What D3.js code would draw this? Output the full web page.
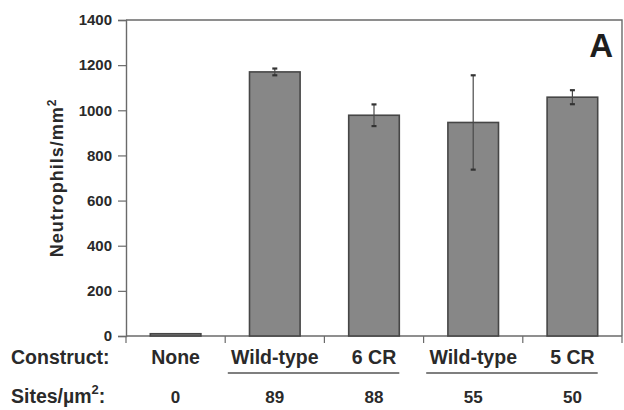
<!DOCTYPE html>
<html>
<head>
<meta charset="utf-8">
<script src="https://cdn.jsdelivr.net/npm/d3@7"></script>
<style>
  body { margin: 0; background: #fff; }
  text { font-family: "Liberation Sans", Arial, Helvetica, sans-serif; fill: #2a2a2a; }
</style>
</head>
<body>
<div id="chart"></div>
<script>
// data
var constructs = ["None", "Wild-type", "6 CR", "Wild-type", "5 CR"]
var sites = ["0", "89", "88", "55", "50"]
var means = [10, 1170, 978, 946, 1058]
var errs = [0, 15, 48, 209, 31]
var yTicks = [0, 200, 400, 600, 800, 1000, 1200, 1400]
var groups = [[1, 2], [3, 4]]   // underlined pairs

var W = 624, H = 410
var margin = {top: 20, right: 2, bottom: 74, left: 126}
var width = W - margin.left - margin.right
var height = H - margin.top - margin.bottom

var svg = d3.select("#chart").append("svg")
    .attr("width", W).attr("height", H)

var g = svg.append("g")
    .attr("transform", "translate(" + margin.left + "," + margin.top + ")")

var x = d3.scaleBand()
    .domain(d3.range(constructs.length))
    .range([0, width])
    .paddingInner(0.49).paddingOuter(0.245)

var y = d3.scaleLinear().domain([0, 1400]).range([height, 0])

var frameColor = "#6a6a6a"

// frame top + right
g.append("path")
    .attr("d", "M0,0H" + width + "V" + height)
    .style("fill", "none").style("stroke", frameColor).style("stroke-width", 1.4)

// y axis
var yAxis = g.append("g")
    .call(d3.axisLeft(y).tickValues(yTicks).tickSize(8).tickPadding(6).tickFormat(d3.format("d")))
yAxis.select(".domain").style("stroke", frameColor).style("stroke-width", 1.4)
yAxis.selectAll(".tick line").style("stroke", frameColor).style("stroke-width", 1.2)
yAxis.selectAll(".tick text")
    .style("font-size", "15px").style("font-weight", "bold").style("fill", "#2a2a2a")
    .attr("font-family", null)

// x axis line with ticks at band boundaries
g.append("line")
    .attr("x1", 0).attr("x2", width).attr("y1", height).attr("y2", height)
    .style("stroke", frameColor).style("stroke-width", 1.4)
g.selectAll(".xtick").data(d3.range(constructs.length + 1)).enter().append("line")
    .attr("class", "xtick")
    .attr("x1", function(d){ return d * width / constructs.length })
    .attr("x2", function(d){ return d * width / constructs.length })
    .attr("y1", height).attr("y2", height + 7)
    .style("stroke", frameColor).style("stroke-width", 1.2)

// bars
g.selectAll(".bar").data(means).enter().append("rect")
    .attr("class", "bar")
    .attr("x", function(d, i){ return x(i) })
    .attr("y", function(d){ return y(d) })
    .attr("width", x.bandwidth())
    .attr("height", function(d){ return height - y(d) })
    .style("fill", "#878787")
    .style("stroke", "#464646").style("stroke-width", 1.6)

// error bars
var errIdx = d3.range(means.length).filter(function(i){ return errs[i] > 0 })
var cx = function(i){ return x(i) + x.bandwidth() / 2 }
g.selectAll(".err").data(errIdx).enter().append("line")
    .attr("class", "err")
    .attr("x1", cx).attr("x2", cx)
    .attr("y1", function(i){ return y(means[i] + errs[i]) })
    .attr("y2", function(i){ return y(means[i] - errs[i]) })
    .style("stroke", "#4a4a4a").style("stroke-width", 1.2)
var caps = []
errIdx.forEach(function(i){
    caps.push({i: i, v: means[i] + errs[i]})
    caps.push({i: i, v: means[i] - errs[i]})
})
g.selectAll(".cap").data(caps).enter().append("line")
    .attr("class", "cap")
    .attr("x1", function(d){ return cx(d.i) - 2.5 })
    .attr("x2", function(d){ return cx(d.i) + 2.5 })
    .attr("y1", function(d){ return y(d.v) })
    .attr("y2", function(d){ return y(d.v) })
    .style("stroke", "#333").style("stroke-width", 2.2)

// panel letter
g.append("text")
    .attr("x", width - 9).attr("y", 37)
    .attr("text-anchor", "end")
    .style("font-size", "33px").style("font-weight", "bold").style("fill", "#1e1e1e")
    .text("A")

// y title
var yt = svg.append("text")
    .attr("transform", "translate(63,178) rotate(-90)")
    .attr("text-anchor", "middle")
    .style("font-size", "18px").style("font-weight", "bold").style("letter-spacing", "1px")
yt.append("tspan").text("Neutrophils/mm")
yt.append("tspan").attr("dy", -7).style("font-size", "12px").text("2")

// bottom rows
var rowConstruct = margin.top + height + 28
var rowSites = margin.top + height + 67

svg.append("text")
    .attr("x", 11).attr("y", rowConstruct)
    .style("font-size", "19.5px").style("font-weight", "bold")
    .text("Construct:")
var st = svg.append("text")
    .attr("x", 11).attr("y", rowSites)
    .style("font-size", "19.5px").style("font-weight", "bold")
st.append("tspan").text("Sites/\u00b5m")
st.append("tspan").attr("dy", -9).style("font-size", "13px").text("2")
st.append("tspan").attr("dy", 9).text(":")

g.selectAll(".clab").data(constructs).enter().append("text")
    .attr("class", "clab")
    .attr("x", function(d, i){ return cx(i) })
    .attr("y", rowConstruct - margin.top)
    .attr("text-anchor", "middle")
    .style("font-size", "19.5px").style("font-weight", "bold")
    .text(function(d){ return d })

g.selectAll(".slab").data(sites).enter().append("text")
    .attr("class", "slab")
    .attr("x", function(d, i){ return cx(i) })
    .attr("y", rowSites - margin.top)
    .attr("text-anchor", "middle")
    .style("font-size", "17px").style("font-weight", "bold")
    .text(function(d){ return d })

g.selectAll(".uline").data(groups).enter().append("line")
    .attr("class", "uline")
    .attr("x1", function(d){ return cx(d[0]) - 47 })
    .attr("x2", function(d){ return x(d[1]) + x.bandwidth() })
    .attr("y1", height + 37).attr("y2", height + 37)
    .style("stroke", "#555").style("stroke-width", 1.5)
</script>
</body>
</html>
